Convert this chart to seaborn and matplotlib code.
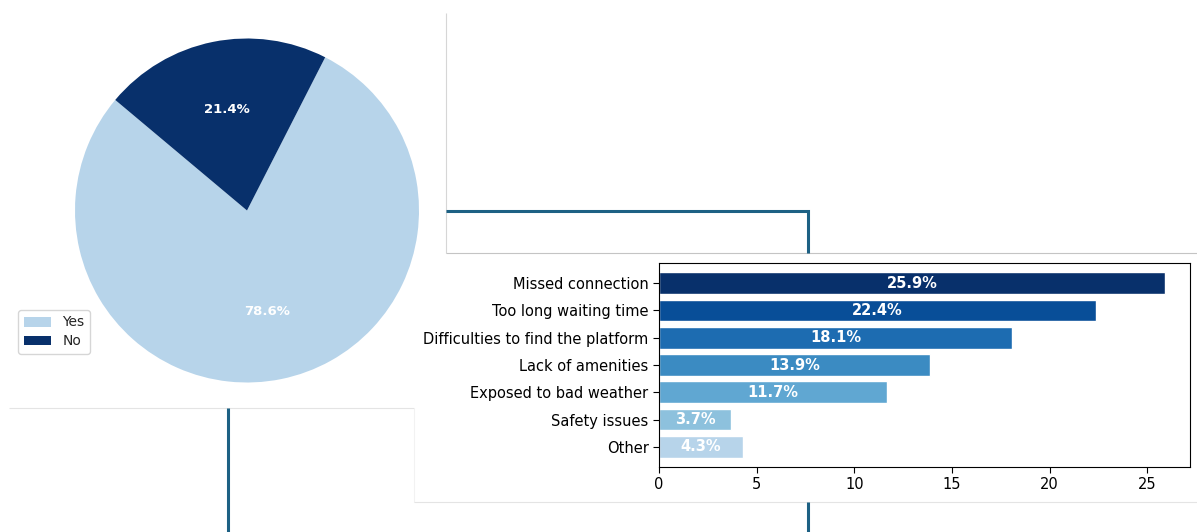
import numpy as np
import pandas as pd
import matplotlib
matplotlib.use("Agg")
import matplotlib.pyplot as plt
from matplotlib.lines import Line2D
import seaborn as sns

# ---- data ----
pie_labels = ["Yes", "No"]
pie_values = [78.6, 21.4]

reasons = ["Missed connection", "Too long waiting time", "Difficulties to find the platform",
           "Lack of amenities", "Exposed to bad weather", "Safety issues", "Other"]
reason_pct = [25.9, 22.4, 18.1, 13.9, 11.7, 3.7, 4.3]

sns.set_style("white")
plt.rcParams['font.family'] = ['DejaVu Sans']

W, H = 1197, 532
fig = plt.figure(figsize=(W / 100, H / 100), dpi=100)

def fx(x):
    return x / W

def fy(y):
    return 1 - y / H

blues = plt.cm.Blues

# ---- pie ----
cx, cy, r = 247, 210.5, 172
lim = 1.2
side = 2 * r * lim
ax_pie = fig.add_axes([fx(cx - side / 2), fy(cy + side / 2), side / W, side / H])
wedges, texts, autotexts = ax_pie.pie(
    pie_values, labels=None, colors=[blues(0.3), blues(1.0)], startangle=140,
    autopct="%1.1f%%", pctdistance=0.6,
    wedgeprops=dict(edgecolor="none", linewidth=0),
    textprops=dict(color="white", fontweight="bold", fontsize=9.5))
ax_pie.set_xlim(-lim, lim)
ax_pie.set_ylim(-lim, lim)
ax_pie.set_aspect("equal")
ax_pie.axis("off")
fig.legend(wedges, pie_labels, loc="upper left",
           bbox_to_anchor=(fx(11), fy(303)), fontsize=10, frameon=True,
           handlelength=2.0, borderpad=0.4, labelspacing=0.35)

# ---- bars ----
ax_bar = fig.add_axes([fx(659), fy(467), (1190 - 659) / W, (467 - 263) / H])
df = pd.DataFrame({"reason": reasons, "pct": reason_pct})
bar_colors = [blues(v) for v in np.linspace(0.3, 1.0, len(reasons))[::-1]]
sns.barplot(data=df, x="pct", y="reason", hue="reason", palette=bar_colors,
            legend=False, width=0.8, ax=ax_bar, saturation=1)
for patch, val in zip(ax_bar.patches, reason_pct):
    y = patch.get_y() + patch.get_height() / 2
    ax_bar.text(val / 2, y, f"{val}%", ha="center", va="center",
                color="white", fontweight="bold", fontsize=10.5)
ax_bar.set_xlim(0, 25.9 * 1.05)
ax_bar.set_ylim(6.74, -0.74)
ax_bar.set_xlabel("")
ax_bar.set_ylabel("")
ax_bar.tick_params(axis="both", labelsize=10.5, length=4, width=0.8,
                   left=True, bottom=True, colors="black")
for s in ax_bar.spines.values():
    s.set_visible(True)
    s.set_color("black")
    s.set_linewidth(0.8)

# ---- decorative frames ----
def fline(x0, y0, x1, y1, **kw):
    fig.add_artist(Line2D([fx(x0), fx(x1)], [fy(y0), fy(y1)], transform=fig.transFigure, **kw))

gray_kw = dict(lw=0.8, solid_capstyle="butt")
fline(446, 13, 446, 253, color="#d6d6d6", **gray_kw)
fline(446, 253, 1197, 253, color="#c4c4c4", **gray_kw)
fline(9, 408, 414, 408, color="#e4e4e4", **gray_kw)
fline(414, 408, 414, 502, color="#f2f2f2", **gray_kw)
fline(414, 502, 1197, 502, color="#e4e4e4", **gray_kw)

teal = "#1d6184"
teal_kw = dict(lw=2.2, color=teal, solid_joinstyle="miter", solid_capstyle="butt")
fig.add_artist(Line2D([fx(446), fx(808), fx(808)], [fy(211), fy(211), fy(253)],
                      transform=fig.transFigure, **teal_kw))
fline(808, 502, 808, 532, **teal_kw)
fline(228, 408, 228, 532, **teal_kw)

fig.savefig("out.png", dpi=100)
